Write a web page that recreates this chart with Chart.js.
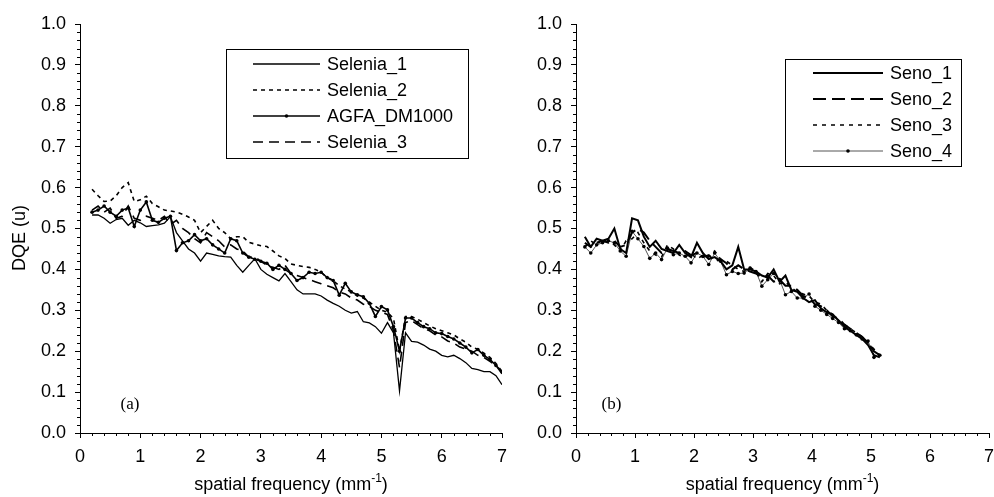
<!DOCTYPE html>
<html><head><meta charset="utf-8">
<script src="https://cdn.jsdelivr.net/npm/chart.js@4"></script>
<style>
html,body{margin:0;padding:0;background:#fff}
body{width:994px;height:497px;overflow:hidden;position:relative}
#w1{position:absolute;left:0;top:0;width:520px;height:497px}
#w2{position:absolute;left:497px;top:0;width:497px;height:497px}
</style></head><body>
<div id="w1"><canvas id="c1" width="520" height="497"></canvas></div>
<div id="w2"><canvas id="c2" width="497" height="497"></canvas></div>
<script>
// ---------- data ----------
const freqA=[0.2,0.3,0.4,0.5,0.6,0.7,0.8,0.9,1.0,1.1,1.2,1.3,1.4,1.5,1.6,1.7,1.8,1.9,2.0,2.1,2.2,2.3,2.4,2.5,2.6,2.7,2.8,2.9,3.0,3.1,3.2,3.3,3.4,3.5,3.6,3.7,3.8,3.9,4.0,4.1,4.2,4.3,4.4,4.5,4.6,4.7,4.8,4.9,5.0,5.1,5.2,5.3,5.4,5.5,5.6,5.7,5.8,5.9,6.0,6.1,6.2,6.3,6.4,6.5,6.6,6.7,6.8,6.9,7.0];
const selenia1=[.533,.533,.525,.513,.522,.525,.508,.520,.514,.505,.507,.509,.513,.529,.49,.47,.45,.44,.42,.44,.437,.433,.431,.43,.41,.393,.41,.426,.40,.388,.38,.372,.39,.37,.35,.34,.34,.34,.335,.325,.317,.31,.30,.293,.297,.272,.269,.26,.244,.27,.245,.103,.245,.224,.222,.215,.205,.20,.19,.186,.19,.182,.172,.158,.155,.15,.15,.14,.118];
const selenia2=[.596,.58,.566,.567,.58,.60,.612,.566,.57,.579,.561,.553,.545,.543,.54,.535,.528,.52,.49,.505,.52,.50,.49,.475,.48,.48,.466,.462,.458,.456,.445,.433,.427,.413,.41,.407,.405,.40,.393,.38,.372,.36,.352,.345,.335,.33,.32,.31,.30,.295,.28,.20,.285,.285,.278,.27,.262,.255,.25,.245,.24,.23,.222,.21,.205,.195,.185,.17,.15];
const agfa=[.54,.545,.555,.54,.53,.545,.55,.505,.545,.565,.52,.515,.525,.53,.446,.465,.47,.485,.47,.475,.46,.45,.44,.475,.47,.44,.43,.425,.42,.415,.40,.41,.40,.39,.373,.38,.393,.39,.393,.38,.373,.337,.366,.345,.338,.333,.317,.285,.309,.301,.26,.20,.281,.281,.27,.26,.255,.245,.243,.236,.23,.22,.21,.196,.204,.19,.18,.165,.15];
const selenia3=[.545,.555,.54,.55,.525,.53,.555,.525,.52,.53,.525,.52,.53,.51,.52,.50,.49,.475,.465,.49,.48,.47,.455,.46,.45,.445,.43,.43,.42,.41,.405,.40,.41,.39,.385,.38,.375,.37,.365,.36,.355,.345,.34,.33,.325,.315,.31,.30,.295,.29,.25,.16,.27,.275,.265,.255,.25,.24,.235,.225,.22,.21,.205,.20,.19,.185,.175,.165,.145];

const freqB=[0.15,0.25,0.35,0.45,0.55,0.65,0.75,0.85,0.95,1.05,1.15,1.25,1.35,1.45,1.55,1.65,1.75,1.85,1.95,2.05,2.15,2.25,2.35,2.45,2.55,2.65,2.75,2.85,2.95,3.05,3.15,3.25,3.35,3.45,3.55,3.65,3.75,3.85,3.95,4.05,4.15,4.25,4.35,4.45,4.55,4.65,4.75,4.85,4.95,5.05,5.15];
const seno1=[.465,.455,.475,.47,.475,.50,.45,.44,.525,.52,.48,.455,.47,.45,.445,.44,.46,.44,.43,.465,.44,.425,.43,.42,.40,.41,.455,.40,.40,.395,.385,.38,.40,.37,.385,.35,.345,.33,.32,.325,.305,.295,.29,.275,.26,.25,.24,.23,.215,.19,.185];
const seno2=[.48,.455,.465,.47,.465,.47,.455,.46,.49,.50,.49,.47,.455,.44,.45,.445,.44,.445,.435,.44,.43,.435,.42,.425,.415,.40,.41,.40,.395,.39,.38,.385,.37,.375,.36,.36,.35,.335,.33,.315,.31,.30,.285,.28,.265,.255,.245,.235,.22,.20,.19];
const seno3=[.455,.47,.46,.475,.465,.46,.445,.47,.475,.49,.465,.445,.435,.43,.46,.45,.435,.43,.44,.425,.435,.43,.445,.425,.42,.41,.40,.395,.405,.395,.37,.39,.385,.365,.37,.355,.345,.34,.335,.32,.315,.30,.29,.275,.265,.255,.245,.235,.22,.205,.19];
const seno4=[.455,.44,.46,.465,.47,.465,.445,.432,.493,.475,.456,.427,.44,.424,.452,.436,.44,.432,.416,.44,.432,.412,.44,.42,.387,.395,.39,.391,.403,.395,.359,.375,.39,.375,.338,.346,.33,.33,.34,.31,.30,.29,.28,.27,.255,.25,.24,.23,.225,.185,.19];

const xTickValues=[0,1,2,3,4,5,6,7];
const yTickValues=[0,0.1,0.2,0.3,0.4,0.5,0.6,0.7,0.8,0.9,1.0];

// ---------- helpers ----------
const FONT="'Liberation Sans', Arial, Helvetica, sans-serif";
const FS=18;
Chart.defaults.font.family=FONT;
Chart.defaults.font.size=FS;
Chart.defaults.color='#000';
function pts(xs,ys){return xs.map((x,i)=>({x:x,y:ys[i]}));}

const minorTicks={id:'minorTicks',afterDraw(c){
  const ctx=c.ctx,xs=c.scales.x,ys=c.scales.y;
  ctx.save();ctx.strokeStyle='#000';ctx.lineWidth=1;ctx.beginPath();
  for(let i=0;i<=50;i++){if(i%5===0)continue;const p=Math.round(ys.getPixelForValue(i*0.02))+0.5;ctx.moveTo(xs.left-3,p);ctx.lineTo(xs.left,p);}
  for(let i=0;i<=35;i++){if(i%5===0)continue;const p=Math.round(xs.getPixelForValue(i*0.2))+0.5;ctx.moveTo(p,ys.bottom);ctx.lineTo(p,ys.bottom+3);}
  ctx.stroke();ctx.restore();
}};

const boxLegend={id:'boxLegend',afterDraw(c,args,o){
  const ctx=c.ctx;ctx.save();
  ctx.fillStyle='#fff';ctx.fillRect(o.x,o.y,o.w,o.h);
  ctx.strokeStyle='#000';ctx.lineWidth=1;ctx.setLineDash([]);
  ctx.strokeRect(o.x+0.5,o.y+0.5,o.w,o.h);
  c.data.datasets.forEach((d,i)=>{
    const yy=o.y+o.first+i*o.row;
    ctx.beginPath();ctx.strokeStyle=d.borderColor;ctx.lineWidth=d.borderWidth;ctx.setLineDash(d.borderDash||[]);
    ctx.moveTo(o.x+o.l0,yy);ctx.lineTo(o.x+o.l1,yy);ctx.stroke();ctx.setLineDash([]);
    if(d.pointRadius>0){ctx.beginPath();ctx.fillStyle=d.pointBackgroundColor;ctx.arc(o.x+(o.l0+o.l1)/2,yy,d.pointRadius,0,Math.PI*2);ctx.fill();}
    ctx.fillStyle='#000';ctx.font=FS+'px '+FONT;ctx.textBaseline='middle';ctx.textAlign='left';
    ctx.fillText(d.label,o.x+o.tx,yy+1);
  });
  ctx.restore();
}};

const annot={id:'annot',afterDraw(c,args,o){
  const ctx=c.ctx,xs=c.scales.x,ys=c.scales.y;ctx.save();ctx.fillStyle='#000';
  ctx.font='17px "Liberation Serif", "Times New Roman", serif';ctx.textAlign='center';ctx.textBaseline='middle';
  ctx.fillText(o.letter,xs.getPixelForValue(o.lx),ys.getPixelForValue(o.ly));
  const main='spatial frequency (mm',sup='-1',end=')';
  ctx.font=FS+'px '+FONT;const w1=ctx.measureText(main).width,w3=ctx.measureText(end).width;
  ctx.font='12px '+FONT;const w2=ctx.measureText(sup).width;
  let x0=(xs.left+xs.right)/2-(w1+w2+w3)/2;const yb=o.titleY;
  ctx.textAlign='left';ctx.textBaseline='alphabetic';
  ctx.font=FS+'px '+FONT;ctx.fillText(main,x0,yb);
  ctx.font='12px '+FONT;ctx.fillText(sup,x0+w1,yb-8);
  ctx.font=FS+'px '+FONT;ctx.fillText(end,x0+w1+w2,yb);
  if(o.ytitle){ctx.translate(o.ytx,o.yty);ctx.rotate(-Math.PI/2);ctx.textAlign='center';ctx.textBaseline='middle';ctx.fillText(o.ytitle,0,0);}
  ctx.restore();
}};

function scales(yw){
  return {
    x:{type:'linear',min:0,max:7,afterBuildTicks(s){s.ticks=xTickValues.map(v=>({value:v}));},
       ticks:{padding:8,color:'#000',maxRotation:0,autoSkip:false,font:{size:FS}},
       grid:{drawOnChartArea:false,drawTicks:true,tickLength:5,color:'#000'},
       border:{color:'#000',width:1},
       afterFit(s){s.height=64;s.paddingLeft=0;s.paddingRight=0;}},
    y:{type:'linear',min:0,max:1,afterBuildTicks(s){s.ticks=yTickValues.map(v=>({value:v}));},
       ticks:{padding:9,color:'#000',font:{size:FS},callback:v=>Number(v).toFixed(1)},
       grid:{drawOnChartArea:false,drawTicks:true,tickLength:5,color:'#000'},
       border:{color:'#000',width:1},
       afterFit(s){s.width=yw;s.paddingTop=0;s.paddingBottom=0;}}
  };
}
function ds(label,xs,ys,st){
  return Object.assign({label:label,data:pts(xs,ys),borderColor:'#000',backgroundColor:'#000',pointRadius:0,pointBackgroundColor:'#000',pointBorderWidth:0,fill:false,tension:0,borderDash:[]},st);
}

new Chart(document.getElementById('c1'),{
  type:'line',
  data:{datasets:[
    ds('Selenia_1',freqA,selenia1,{borderWidth:1.3}),
    ds('Selenia_2',freqA,selenia2,{borderWidth:1.6,borderDash:[4,4]}),
    ds('AGFA_DM1000',freqA,agfa,{borderWidth:1.6,pointRadius:1.8}),
    ds('Selenia_3',freqA,selenia3,{borderWidth:1.6,borderDash:[10,6]})
  ]},
  options:{responsive:false,animation:false,devicePixelRatio:1,
    layout:{padding:{left:0,top:24,right:18,bottom:0}},
    plugins:{legend:{display:false},tooltip:{enabled:false},
      boxLegend:{x:226,y:49,w:242,h:109,first:15,row:26,l0:27,l1:94,tx:101},
      annot:{letter:'(a)',lx:0.83,ly:0.07,titleY:490,ytitle:'DQE (u)',ytx:20,yty:238}},
    scales:scales(80)},
  plugins:[minorTicks,boxLegend,annot]
});

new Chart(document.getElementById('c2'),{
  type:'line',
  data:{datasets:[
    ds('Seno_1',freqB,seno1,{borderWidth:2}),
    ds('Seno_2',freqB,seno2,{borderWidth:2,borderDash:[13,6]}),
    ds('Seno_3',freqB,seno3,{borderWidth:1.6,borderDash:[4,5]}),
    ds('Seno_4',freqB,seno4,{borderWidth:1,borderColor:'#555',pointRadius:1.8})
  ]},
  options:{responsive:false,animation:false,devicePixelRatio:1,
    layout:{padding:{left:0,top:24,right:5,bottom:0}},
    plugins:{legend:{display:false},tooltip:{enabled:false},
      boxLegend:{x:288,y:59,w:176,h:107,first:14,row:26,l0:28,l1:98,tx:105},
      annot:{letter:'(b)',lx:0.6,ly:0.07,titleY:490}},
    scales:scales(79)},
  plugins:[minorTicks,boxLegend,annot]
});
</script>
</body></html>
